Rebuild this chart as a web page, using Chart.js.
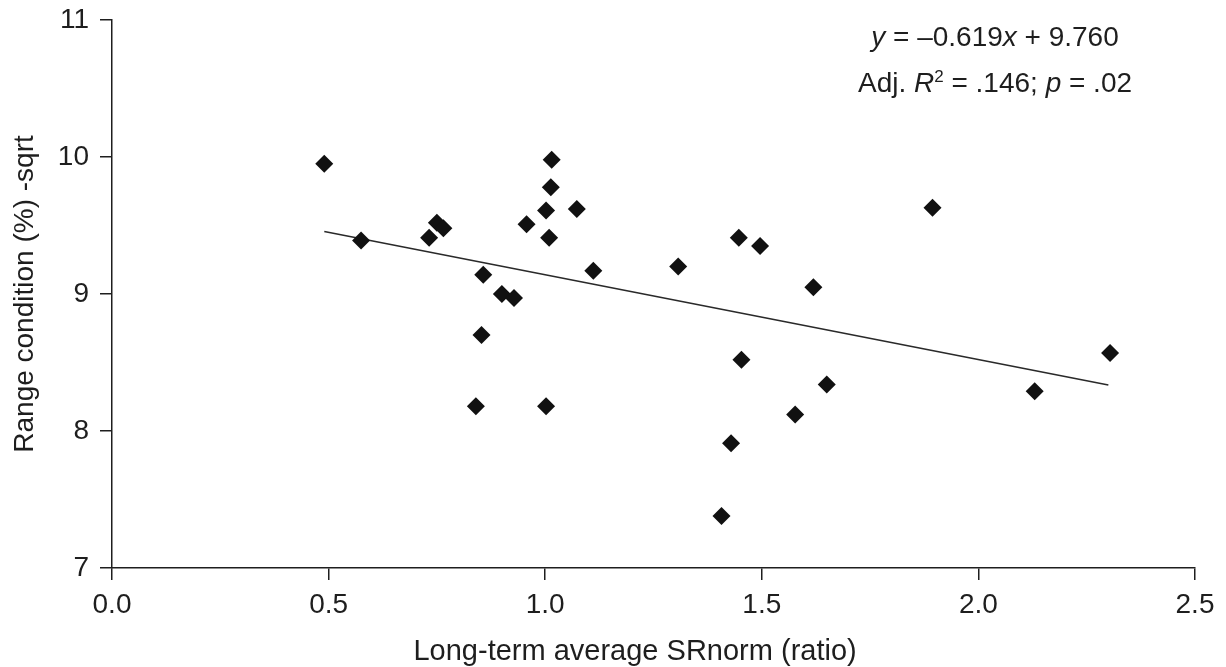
<!DOCTYPE html>
<html>
<head>
<meta charset="utf-8">
<title>Range condition vs long-term average SRnorm</title>
<script src="https://cdn.jsdelivr.net/npm/chart.js@4.4.1/dist/chart.umd.min.js"></script>
<style>
  html, body { margin: 0; padding: 0; background: #ffffff; }
  #wrap { width: 1226px; height: 667px; position: relative; }
</style>
</head>
<body>
<div id="wrap"><canvas id="chart"></canvas></div>
<script>
// Observations: long-term average SRnorm (ratio) and sqrt-transformed range condition (%)
const srnorm = [0.49, 0.575, 0.732, 0.75, 0.765, 0.857, 0.90, 0.928, 0.853, 0.84,
                1.015, 1.013, 1.002, 0.957, 1.009, 1.073, 1.111, 1.002,
                1.307, 1.447, 1.496, 1.894, 1.619, 1.453, 1.65, 1.577, 1.429, 1.407,
                2.13, 2.304];
const rangeCondition = [9.95, 9.39, 9.41, 9.52, 9.48, 9.14, 9.00, 8.97, 8.70, 8.18,
                        9.98, 9.78, 9.61, 9.51, 9.41, 9.62, 9.17, 8.18,
                        9.20, 9.41, 9.35, 9.63, 9.05, 8.52, 8.34, 8.12, 7.91, 7.38,
                        8.29, 8.57];

// Fitted regression, as reported in the figure text
const slope = -0.619;
const intercept = 9.760;
const fitRange = [0.49, 2.30];

// Axis tick values and titles
const xTicks = [0.0, 0.5, 1.0, 1.5, 2.0, 2.5];
const yTicks = [7, 8, 9, 10, 11];
const xTitle = 'Long-term average SRnorm (ratio)';
const yTitle = 'Range condition (%) -sqrt';

const points = srnorm.map((x, i) => ({ x: x, y: rangeCondition[i] }));
const fitLine = fitRange.map(x => ({ x: x, y: slope * x + intercept }));

const ink = '#1e1e1e';
const family = '"Liberation Sans", Arial, Helvetica, sans-serif';

// Regression equation, fit statistics and the x-axis title
const statsText = {
  id: 'statsText',
  afterDraw(chart) {
    const ctx = chart.ctx;
    const area = chart.chartArea;
    const size = 28;
    const up = `${size}px ${family}`;
    const it = `italic ${size}px ${family}`;
    const sup = `${Math.round(size * 0.62)}px ${family}`;
    const lines = [
      { y: 46, parts: [[it, 'y', 0], [up, ' = \u20130.619', 0], [it, 'x', 0], [up, ' + 9.760', 0]] },
      { y: 92, parts: [[up, 'Adj. ', 0], [it, 'R', 0], [sup, '2', -10], [up, ' = .146; ', 0], [it, 'p', 0], [up, ' = .02', 0]] }
    ];
    const cx = area.right - 200;
    ctx.save();
    ctx.fillStyle = ink;
    ctx.textBaseline = 'alphabetic';
    ctx.textAlign = 'left';
    lines.forEach(line => {
      let w = 0;
      line.parts.forEach(p => { ctx.font = p[0]; w += ctx.measureText(p[1]).width; });
      let x = cx - w / 2;
      line.parts.forEach(p => {
        ctx.font = p[0];
        ctx.fillText(p[1], x, line.y + p[2]);
        x += ctx.measureText(p[1]).width;
      });
    });

    // x-axis title, set slightly left of the plot centre
    ctx.font = `29px ${family}`;
    ctx.textAlign = 'center';
    ctx.fillText(xTitle, area.left + (area.right - area.left) * 0.483, chart.height - 7);
    ctx.restore();
  }
};

new Chart(document.getElementById('chart'), {
  type: 'scatter',
  data: {
    datasets: [
      {
        label: 'Observations',
        data: points,
        pointStyle: 'rectRot',
        pointRadius: 9,
        pointHoverRadius: 9,
        backgroundColor: '#111111',
        borderColor: '#111111',
        borderWidth: 0,
        showLine: false,
        order: 1
      },
      {
        label: 'Linear fit',
        data: fitLine,
        showLine: true,
        pointRadius: 0,
        borderColor: '#2a2a2a',
        borderWidth: 1.6,
        fill: false,
        order: 2
      }
    ]
  },
  options: {
    responsive: true,
    maintainAspectRatio: false,
    devicePixelRatio: 1,
    animation: false,
    layout: { padding: { top: 20, right: 31, left: 0, bottom: 0 } },
    plugins: {
      legend: { display: false },
      tooltip: { enabled: false }
    },
    scales: {
      x: {
        type: 'linear',
        min: 0,
        max: 2.5,
        afterBuildTicks: s => { s.ticks = xTicks.map(v => ({ value: v })); },
        afterFit: s => { s.height = 99; },
        ticks: {
          autoSkip: false,
          maxRotation: 0,
          padding: 8,
          color: ink,
          font: { family: family, size: 28 },
          callback: v => Number(v).toFixed(1)
        },
        grid: { display: true, drawOnChartArea: false, drawTicks: true, tickLength: 12, color: ink, lineWidth: 1.5 },
        border: { display: true, color: ink, width: 1.5 },
        title: { display: false, text: xTitle }
      },
      y: {
        type: 'linear',
        min: 7,
        max: 11,
        afterBuildTicks: s => { s.ticks = yTicks.map(v => ({ value: v })); },
        afterFit: s => { s.width = 112; s.paddingTop = 0; s.paddingBottom = 0; },
        ticks: {
          padding: 11,
          color: ink,
          font: { family: family, size: 28 },
          callback: v => String(v)
        },
        grid: { display: true, drawOnChartArea: false, drawTicks: true, tickLength: 12, color: ink, lineWidth: 1.5 },
        border: { display: true, color: ink, width: 1.5 },
        title: {
          display: true,
          text: yTitle,
          color: ink,
          font: { family: family, size: 28 },
          padding: { top: 8, bottom: 0 }
        }
      }
    }
  },
  plugins: [statsText]
});
</script>
</body>
</html>
